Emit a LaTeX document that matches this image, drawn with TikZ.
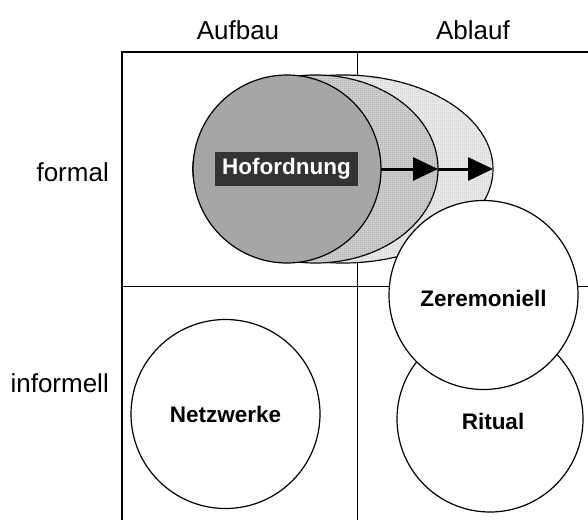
\documentclass[tikz,border=0pt]{standalone}
\usepackage{fontspec}
\setmainfont{Liberation Sans}
\usepackage{tikz}
\usetikzlibrary{arrows.meta, positioning, shapes.geometric, patterns.meta}
\definecolor{HofGray}{RGB}{166, 166, 166}
\definecolor{MidDots}{RGB}{205, 205, 205}
\definecolor{OuterDots}{RGB}{232, 232, 232}
\definecolor{LabelBox}{RGB}{51, 51, 51}
\tikzdeclarepattern{name=stipple, type=uncolored,
  bounding box={(0pt,0pt) and (2pt,2pt)}, tile size={(2pt,2pt)},
  code={\fill (0pt,0pt) rectangle (1pt,1pt);}}

\begin{document}
\begin{tikzpicture}[x=1pt, y=-1pt,
    axislabel/.style={font=\fontsize{26}{30}\selectfont, inner sep=0pt},
    ring/.style={circle, draw=black, line width=1.2pt, fill=white, inner sep=0pt,
                 minimum size=189pt, outer sep=0pt, font=\fontsize{22.5}{26}\selectfont\bfseries},
    spread/.style={ellipse, draw=black, line width=1.2pt, inner sep=0pt, outer sep=0pt},
    push/.style={line width=3pt, -{Triangle[length=25pt, width=23pt]}}]
  \useasboundingbox (0,0) rectangle (588,519);
  \clip (0,0) rectangle (588,519);

  % grid
  \draw[line width=0.9pt] (357,52) -- (357,530);
  \draw[line width=0.9pt] (122,286) -- (600,286);
  \draw[line width=2.5pt] (122,530) -- (122,52) -- (600,52);

  % axis labels
  \node[axislabel] (aufbau) at (238,30) {Aufbau};
  \node[axislabel] (ablauf) at (473,30) {Ablauf};
  \node[axislabel, anchor=east] (formal) at (109,172) {formal};
  \node[axislabel, anchor=east] (informell) at (109,383) {informell};

  % Hofordnung and its spread
  \node[spread, fill=OuterDots, postaction={pattern=stipple, pattern color=black!25},
        minimum width=300pt, minimum height=188pt] (outer) at (343,169) {};
  \node[spread, fill=MidDots, postaction={pattern=stipple, pattern color=black!45},
        minimum width=245pt, minimum height=188pt] (mid) at (315.5,169) {};
  \node[ring, fill=HofGray, minimum size=188pt] (hof) at (287,169) {};
  \node[fill=LabelBox, text=white, font=\fontsize{22.5}{26}\selectfont\bfseries,
        minimum width=143pt, minimum height=34pt, inner sep=0pt] (hoflabel) at (286.5,169) {Hofordnung};
  \draw[push] (hof.east) -- (mid.east);
  \draw[push] (mid.east) -- (outer.east);

  % Ablauf circles
  \node[ring, minimum size=186pt] (ritual) at (490,419) {};
  \node[font=\fontsize{22.5}{26}\selectfont\bfseries] at (493,421) {Ritual};
  \node[ring] (zeremoniell) at (483.5,295) {};
  \node[font=\fontsize{22.5}{26}\selectfont\bfseries] at (483.5,298) {Zeremoniell};

  % Aufbau, informell
  \node[ring] (netzwerke) at (225.5,414) {Netzwerke};
\end{tikzpicture}
\end{document}
